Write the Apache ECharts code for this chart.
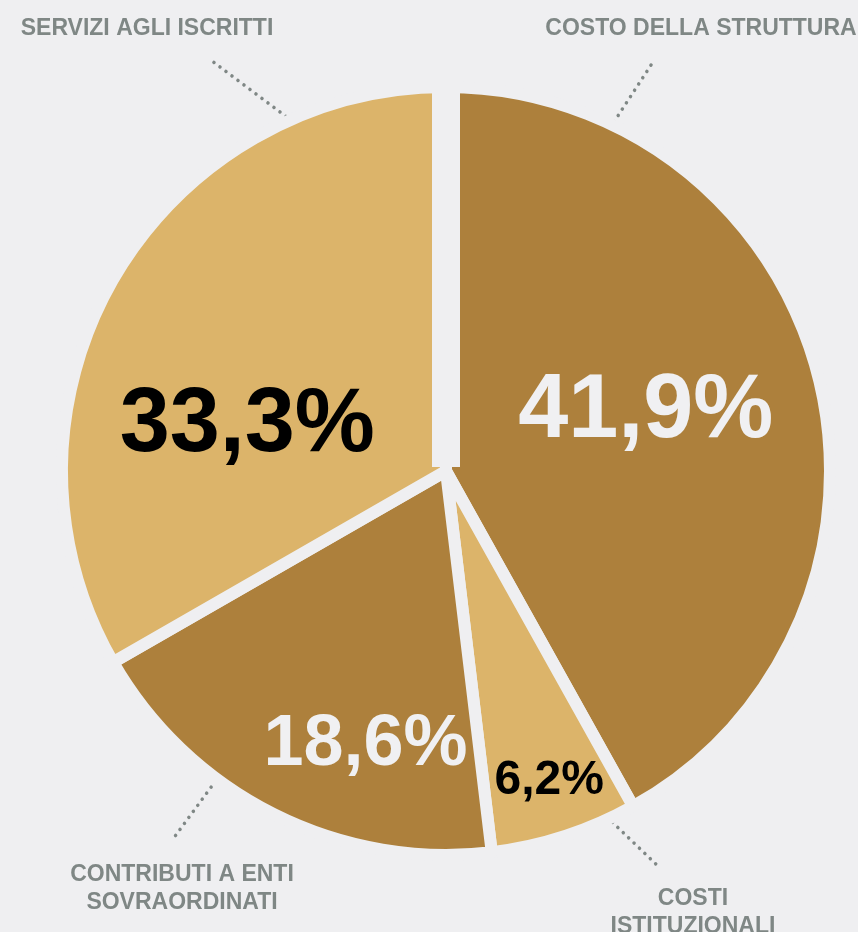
<!DOCTYPE html>
<html>
<head>
<meta charset="utf-8">
<script src="https://cdn.jsdelivr.net/npm/echarts@6/dist/echarts.min.js"></script>
<style>
  html, body { margin: 0; padding: 0; background: #EFEFF1; }
  #chart { width: 858px; height: 932px; }
</style>
</head>
<body>
<div id="chart"></div>
<script>
// ---- data ----
const categories = ['Costo della struttura', 'Costi istituzionali', 'Contributi a enti sovraordinati', 'Servizi agli iscritti'];
const shares = [41.9, 6.2, 18.6, 33.3];
const outerLabels = ['COSTO DELLA STRUTTURA', 'COSTI\nISTITUZIONALI', 'CONTRIBUTI A ENTI\nSOVRAORDINATI', 'SERVIZI AGLI ISCRITTI'];

// ---- styling / layout ----
const BG = '#EFEFF1';
const DARK = '#AD803C';
const LIGHT = '#DCB46A';
const GREY = '#7F8785';
const sliceColors = [DARK, LIGHT, DARK, LIGHT];
const pctColors = ['#F0F0F2', '#000000', '#F0F0F2', '#000000'];
const pctSizes = [90, 48, 72, 90];
const pctOffsets = [[11, -10], [43, 124], [7, 100], [-30, 53]];
const CX = 446, CY = 471, R = 384, GAP = 12;
// outer label anchors and leader lines
const outerPos = [[701, 29], [693, 913], [182, 889], [147, 29]];
const leaders = [
  [[610, 128], [653, 62]],
  [[607, 817], [660, 868]],
  [[220, 775], [173, 839]],
  [[292, 121], [208, 58]]
];

const fmtPct = v => v.toFixed(1).replace('.', ',') + '%';

const chart = echarts.init(document.getElementById('chart'), null, { renderer: 'canvas' });

const option = {
  backgroundColor: BG,
  animation: false,
  series: [
    {
      type: 'pie',
      center: [CX, CY],
      radius: [0, R],
      startAngle: 90,
      clockwise: true,
      avoidLabelOverlap: false,
      silent: true,
      emphasis: { disabled: true },
      itemStyle: { borderColor: BG, borderWidth: GAP },
      label: {
        show: true,
        position: 'inside',
        fontFamily: 'Liberation Sans, Arial, sans-serif',
        fontWeight: 'bold',
        formatter: p => fmtPct(p.value)
      },
      labelLine: { show: false },
      labelLayout: p => ({ dx: pctOffsets[p.dataIndex][0], dy: pctOffsets[p.dataIndex][1] }),
      data: categories.map((c, i) => ({
        name: c,
        value: shares[i],
        itemStyle: { color: sliceColors[i] },
        label: { color: pctColors[i], fontSize: pctSizes[i] }
      }))
    },
    {
      type: 'pie',
      center: [CX, CY],
      radius: [0, R],
      startAngle: 90,
      clockwise: true,
      avoidLabelOverlap: false,
      silent: true,
      emphasis: { disabled: true },
      itemStyle: { color: 'rgba(0,0,0,0)', borderWidth: 0 },
      label: {
        show: true,
        position: 'outside',
        fontFamily: 'Liberation Sans, Arial, sans-serif',
        fontWeight: 'bold',
        fontSize: 23,
        lineHeight: 28,
        color: GREY,
        align: 'center',
        formatter: p => outerLabels[p.dataIndex]
      },
      labelLine: {
        show: true,
        lineStyle: { color: GREY, width: 3.5, type: [0.1, 7.4], cap: 'round' }
      },
      labelLayout: p => {
        const a = leaders[p.dataIndex];
        const mid = [(a[0][0] + a[1][0]) / 2, (a[0][1] + a[1][1]) / 2];
        return {
          x: outerPos[p.dataIndex][0],
          y: outerPos[p.dataIndex][1],
          align: 'center',
          verticalAlign: 'middle',
          labelLinePoints: [a[0], mid, a[1]]
        };
      },
      data: categories.map((c, i) => ({ name: c, value: shares[i] }))
    }
  ],
  graphic: {
    elements: [
      {
        type: 'rect',
        z: 100,
        silent: true,
        shape: { x: CX - 14, y: CY - R - 10, width: 28, height: R + 6 },
        style: { fill: BG }
      }
    ]
  }
};
chart.setOption(option);
</script>
</body>
</html>
